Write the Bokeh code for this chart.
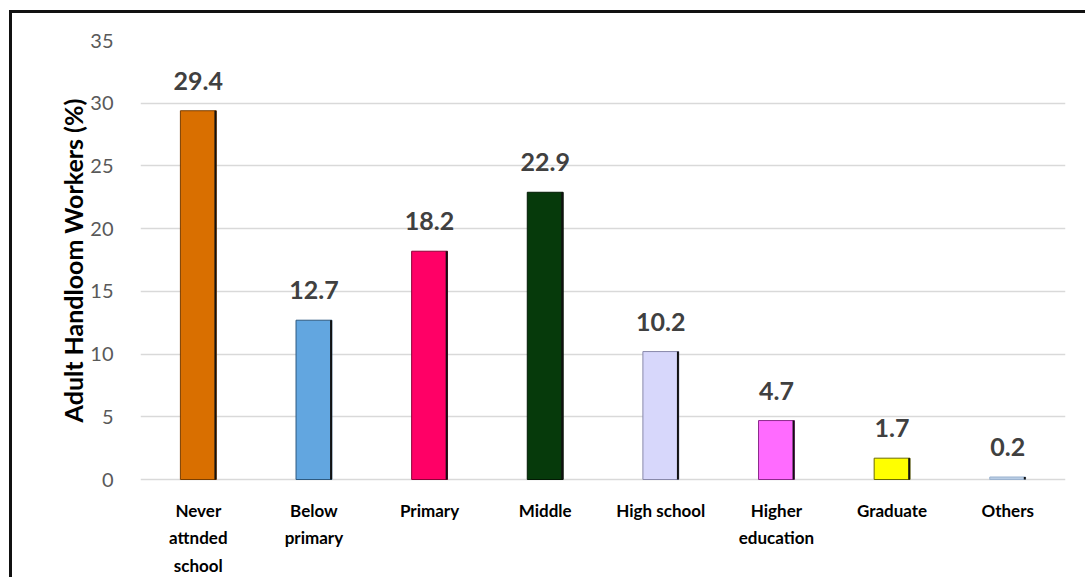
from bokeh.plotting import figure
from bokeh.models import ColumnDataSource, FixedTicker, Title
from bokeh.transform import dodge
from bokeh.core.properties import value
from bokeh.embed import file_html
from bokeh.resources import INLINE

categories = ["Never attnded school", "Below primary", "Primary", "Middle",
              "High school", "Higher education", "Graduate", "Others"]
display_labels = ["Never\nattnded\nschool", "Below\nprimary", "Primary", "Middle",
                  "High school", "Higher\neducation", "Graduate", "Others"]
values = [29.4, 12.7, 18.2, 22.9, 10.2, 4.7, 1.7, 0.2]
fill_colors = ["#D96F00", "#62A6E0", "#FF0066", "#063A0B",
               "#D7D7FB", "#FF6BFF", "#FFFF00", "#B8CCE4"]
edge_colors = ["#7A3E00", "#2E5A80", "#8C0038", "#021A04",
               "#8888AA", "#8C2A8C", "#6B6B00", "#9DB4D0"]
y_ticks = [0, 5, 10, 15, 20, 25, 30, 35]
y_title = "Adult Handloom Workers (%)"

# layout constants (pixels)
W, H = 1076, 567
TOP, BOTTOM_PAD = 27, 101
PX_PER_UNIT = (H - TOP - BOTTOM_PAD) / 35.0
y_start = -BOTTOM_PAD / PX_PER_UNIT

src = ColumnDataSource(dict(
    cat=categories, val=values, fill=fill_colors, edge=edge_colors,
    lab=[f"{v:.1f}" for v in values],
))

cat_rows, line_rows, off_rows = [], [], []
for c, d in zip(categories, display_labels):
    for i, line in enumerate(d.split("\n")):
        cat_rows.append(c)
        line_rows.append(line)
        off_rows.append(20 + 27.5 * i)
lab_src = ColumnDataSource(dict(cat=cat_rows, txt=line_rows, off=off_rows,
                                y0=[0] * len(cat_rows)))

p = figure(x_range=categories, y_range=(y_start, 35), width=W, height=H,
           output_backend="svg", toolbar_location=None,
           min_border_left=128, min_border_right=23,
           min_border_top=TOP, min_border_bottom=0)
p.margin = (10, 0, 0, 9)
p.styles = {"border-left": "3px solid #111111", "border-top": "3px solid #111111"}
p.outline_line_color = None
p.background_fill_color = "white"
p.border_fill_color = "white"

p.vbar(x="cat", top="val", width=0.31, source=src,
       fill_color="fill", line_color="edge", line_width=1)
p.segment(x0=dodge("cat", 0.148, range=p.x_range), y0=0,
          x1=dodge("cat", 0.148, range=p.x_range), y1="val",
          source=src, line_color="#111111", line_width=2)

p.text(x="cat", y="val", text="lab", source=src,
       text_align="center", text_baseline="bottom", y_offset=-21,
       text_font=value("Lato"), text_font_style="bold",
       text_font_size="25px", text_color="#404040")

p.text(x="cat", y="y0", text="txt", source=lab_src, y_offset="off",
       text_align="center", text_baseline="top",
       text_font=value("Lato"), text_font_style="bold",
       text_font_size="17px", text_color="#000000")

# axes
p.xaxis.visible = False
p.yaxis.ticker = FixedTicker(ticks=y_ticks)
p.yaxis.axis_line_color = None
p.yaxis.major_tick_line_color = None
p.yaxis.minor_tick_line_color = None
p.yaxis.major_label_text_font = "Lato"
p.yaxis.major_label_text_font_size = "20px"
p.yaxis.major_label_text_color = "#595959"
p.yaxis.major_label_standoff = 21

t = Title(text=y_title, align="right", offset=58, standoff=0,
          text_font="Lato", text_font_size="25px", text_font_style="bold",
          text_color="#000000")
p.add_layout(t, "left")

p.xgrid.grid_line_color = None
p.ygrid.ticker = FixedTicker(ticks=[0, 5, 10, 15, 20, 25, 30])
p.ygrid.grid_line_color = "#D9D9D9"
p.ygrid.grid_line_width = 1.5
p.ygrid.level = "underlay"

open("out.html", "w").write(file_html(p, INLINE))
